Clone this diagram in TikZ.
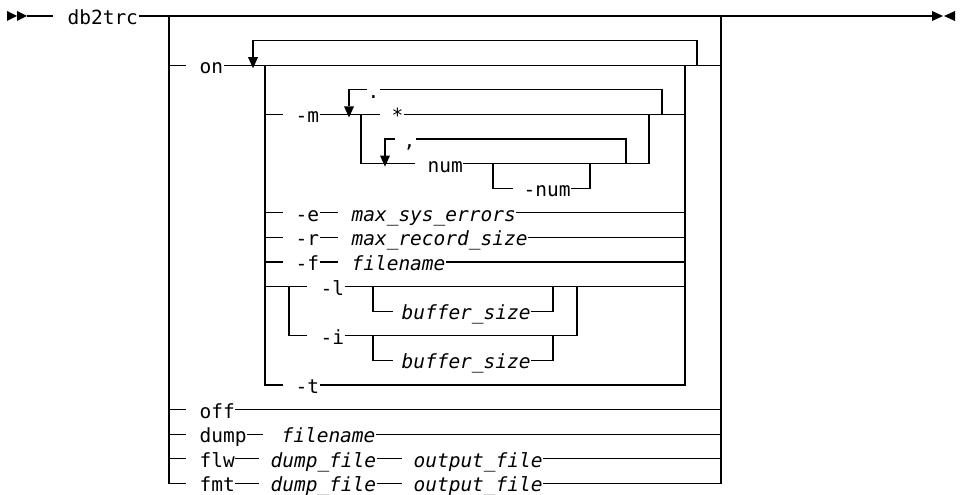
\documentclass[tikz,border=0pt]{standalone}
\usepackage{fontspec}
\setmonofont{DejaVu Sans Mono}
\newcommand\rrfont{\ttfamily\fontsize{19.5}{20}\selectfont}
\newcommand\darr[2]{\fill (#1-5,#2-8) -- (#1+5,#2-8) -- (#1,#2+3) -- cycle;}
\begin{document}
\begin{tikzpicture}[x=1pt,y=-1pt,line width=1.1pt,
  lbl/.style={font=\rrfont,inner sep=0pt,text height=17pt,text depth=0pt,anchor=west},
  var/.style={lbl,font=\rrfont\itshape}]
\useasboundingbox (0,0) rectangle (961,495);
% texts
\node[lbl] (db) at (67,16) {db2trc};
\node[lbl] (on) at (199,65.2) {on};
\node[lbl] (m) at (295,114.4) {-m};
\node[lbl] (dot) at (367,89.8) {.};
\node[lbl] (star) at (391,114.4) {*};
\node[lbl] (comma) at (403,139) {,};
\node[lbl] (num) at (427,163.6) {num};
\node[lbl] (mnum) at (523,188.2) {-num};
\node[lbl] (me) at (295,212.8) {-e};
\node[var] (mse) at (351,212.8) {max\_sys\_errors};
\node[lbl] (mr) at (295,237.4) {-r};
\node[var] (mrs) at (351,237.4) {max\_record\_size};
\node[lbl] (mf) at (295,262) {-f};
\node[var] (ffn) at (351,262) {filename};
\node[lbl] (ml) at (320,286.6) {-l};
\node[var] (b1) at (401,311.2) {buffer\_size};
\node[lbl] (mi) at (320,335.8) {-i};
\node[var] (b2) at (401,360.4) {buffer\_size};
\node[lbl] (mt) at (295,385) {-t};
\node[lbl] (off) at (199,409.6) {off};
\node[lbl] (dump) at (199,434.2) {dump};
\node[var] (dfn) at (281,434.2) {filename};
\node[lbl] (flw) at (199,458.8) {flw};
\node[var] (df1) at (270,458.8) {dump\_file};
\node[var] (of1) at (413,458.8) {output\_file};
\node[lbl] (fmt) at (199,483.4) {fmt};
\node[var] (df2) at (270,483.4) {dump\_file};
\node[var] (of2) at (413,483.4) {output\_file};
% start / end
\fill (7,11) -- (17,16) -- (7,21) -- cycle;
\fill (17,11) -- (27,16) -- (17,21) -- cycle;
\fill (932,11) -- (943,16) -- (932,21) -- cycle;
\fill (955,11) -- (944,16) -- (955,21) -- cycle;
\draw (27,16) -- (53,16);
\draw (db.east) -- (932,16);
% main choice
\draw (169,16) |- (186,483.4);
\foreach \y in {65.2,409.6,434.2,458.8} \draw (169,\y) -- (186,\y);
\draw (of2.east) -| (721,16);
\draw (off.east) -- (721,409.6);
\draw (dfn.east) -- (721,434.2);
\draw (of1.east) -- (721,458.8);
\draw (dump.east) -- (263,434.2);
\draw (flw.east) -- (259,458.8);
\draw (df1.east) -- (402,458.8);
\draw (fmt.east) -- (259,483.4);
\draw (df2.east) -- (402,483.4);
% on
\draw (on.east) -- (721,65.2);
\draw (253,57.2) |- (697,40.6) -- (697,65.2);
\darr{253}{65.2}
% option block
\draw (265,65.2) |- (283,385);
\draw (mt.east) -| (685,65.2);
\foreach \y in {114.4,212.8,237.4,262} \draw (265,\y) -- (283,\y);
\draw (265,286.6) -- (307,286.6);
% -m
\draw (m.east) -- (380,114.4);
\draw (star.east) -- (685,114.4);
\draw (367,89.8) -| (349,106.4);
\darr{349}{114.4}
\draw (dot.east) -| (662,114.4);
\draw (361,114.4) |- (415,163.6);
\draw (395,139) -| (385,155.6);
\darr{385}{163.6}
\draw (comma.east) -| (626,163.6);
\draw (num.east) -| (649,114.4);
\draw (493,163.6) |- (513,188.2);
\draw (mnum.east) -| (590,163.6);
% -e -r -f
\draw (me.east) -- (338,212.8);
\draw (mse.east) -- (685,212.8);
\draw (mr.east) -- (338,237.4);
\draw (mrs.east) -- (685,237.4);
\draw (mf.east) -- (338,262);
\draw (ffn.east) -- (685,262);
% -l -i
\draw (ml.east) -- (685,286.6);
\draw (289,286.6) |- (307,335.8);
\draw (mi.east) -| (577,286.6);
\draw (373,286.6) |- (393,311.2);
\draw (b1.east) -| (553,286.6);
\draw (373,335.8) |- (393,360.4);
\draw (b2.east) -| (553,335.8);
\end{tikzpicture}
\end{document}
